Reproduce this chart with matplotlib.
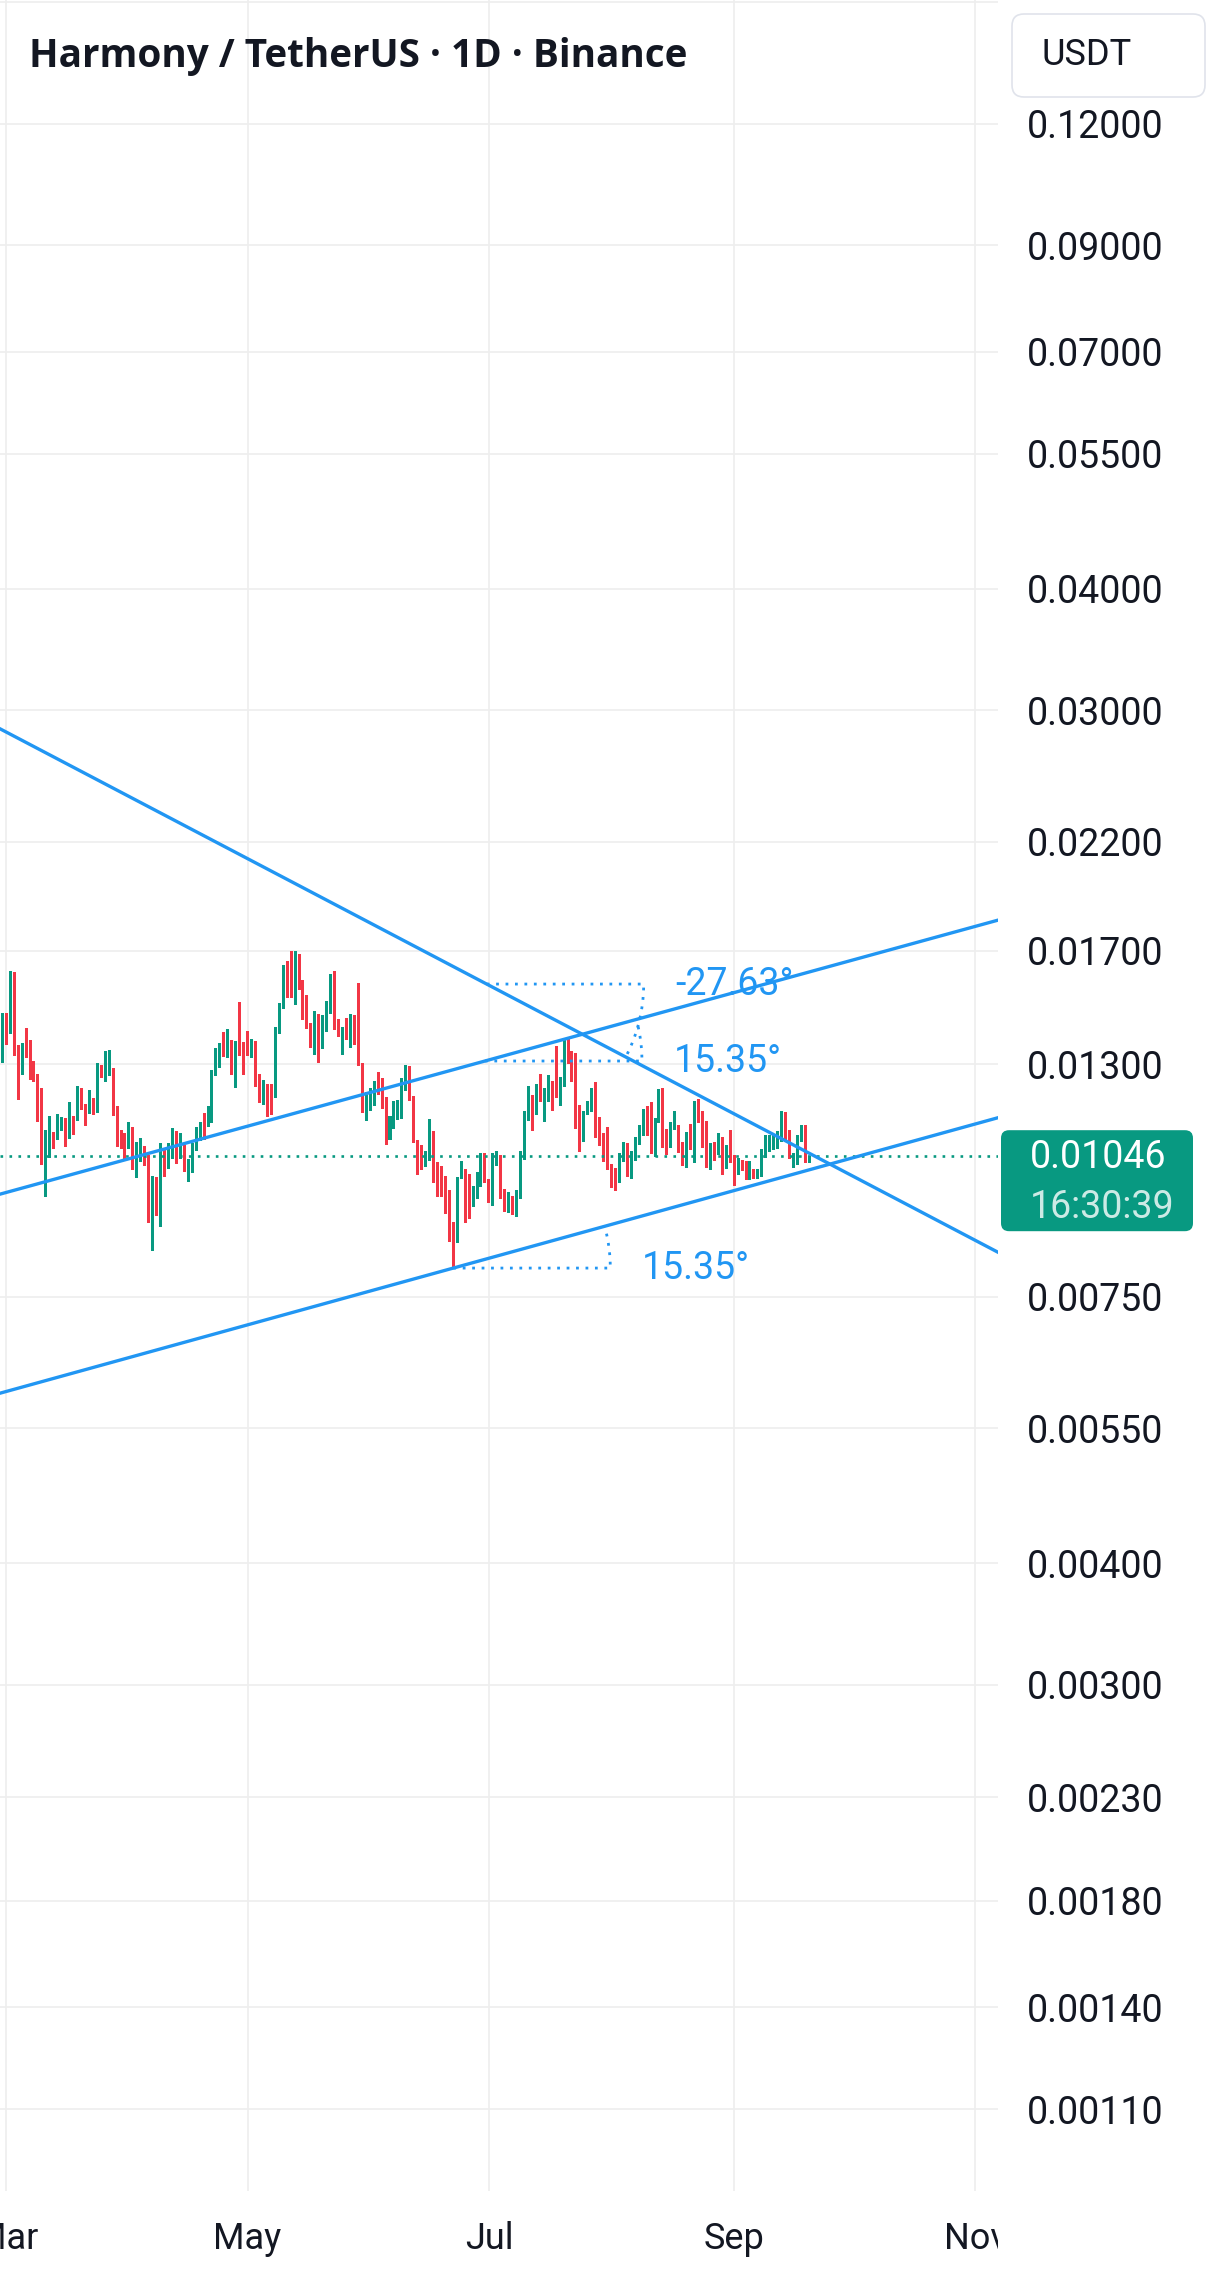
import numpy as np
import pandas as pd
import matplotlib
matplotlib.use("Agg")
import matplotlib.pyplot as plt
import matplotlib.dates as mdates
from matplotlib.patches import FancyBboxPatch
from matplotlib.ticker import NullLocator
from matplotlib.transforms import Bbox, TransformedBbox, IdentityTransform

W, H = 1219, 2282
UP = "#089981"
DOWN = "#F23645"
BLUE = "#2196F3"
GRID = "#EEEEEE"
INK = "#131722"

plt.rcParams["font.family"] = ["Roboto", "DejaVu Sans"]

title = "Harmony / TetherUS · 1D · Binance"
currency = "USDT"
countdown = "16:30:39"

# daily candles, first one on 2025-02-28
first_day = "2025-02-28"
opens = [
    0.01305, 0.01467, 0.01396, 0.01617, 0.01360, 0.01268, 0.01416, 0.01376, 0.01309, 0.01270,
    0.01228, 0.00949, 0.01042, 0.01108, 0.01088, 0.01109, 0.01144, 0.01089, 0.01149, 0.01137,
    0.01228, 0.01183, 0.01156, 0.01199, 0.01159, 0.01297, 0.01247, 0.01265, 0.01288, 0.01177,
    0.01112, 0.01104, 0.01064, 0.01122, 0.00993, 0.01032, 0.01071, 0.01048, 0.00837, 0.00995,
    0.00884, 0.01065, 0.01015, 0.01039, 0.01109, 0.01040, 0.01073, 0.00984, 0.01005, 0.01059,
    0.01084, 0.01158, 0.01122, 0.01131, 0.01265, 0.01289, 0.01402, 0.01320, 0.01376, 0.01229,
    0.01506, 0.01370, 0.01406, 0.01320, 0.01373, 0.01270, 0.01181, 0.01240, 0.01240, 0.01200,
    0.01397, 0.01482, 0.01659, 0.01699, 0.01496, 0.01687, 0.01586, 0.01531, 0.01433, 0.01329,
    0.01463, 0.01348, 0.01404, 0.01465, 0.01620, 0.01446, 0.01329, 0.01450, 0.01351, 0.01460,
    0.01575, 0.01303, 0.01137, 0.01164, 0.01178, 0.01276, 0.01258, 0.01202, 0.01087, 0.01115,
    0.01139, 0.01142, 0.01221, 0.01294, 0.01205, 0.01086, 0.01073, 0.01019, 0.01034, 0.01109,
    0.01031, 0.01023, 0.00999, 0.00965, 0.00896, 0.00853, 0.00991, 0.01014, 0.01004, 0.00927,
    0.00945, 0.00972, 0.01055, 0.00992, 0.00929, 0.01022, 0.01048, 0.00969, 0.00914, 0.00951,
    0.00906, 0.00945, 0.01036, 0.01137, 0.01208, 0.01153, 0.01270, 0.01134, 0.01189, 0.01249,
    0.01357, 0.01178, 0.01232, 0.01386, 0.01341, 0.01334, 0.01180, 0.01082, 0.01153, 0.01161,
    0.01246, 0.01147, 0.01104, 0.01120, 0.01028, 0.01017, 0.00981, 0.01032, 0.01078, 0.00991,
    0.01034, 0.01074, 0.01097, 0.01177, 0.01188, 0.01044, 0.01131, 0.01228, 0.01115, 0.01066,
    0.01113, 0.01125, 0.01081, 0.01017, 0.01128, 0.01029, 0.01197, 0.01163, 0.01136, 0.01012,
    0.01081, 0.01049, 0.01094, 0.01015, 0.01112, 0.01049, 0.01000, 0.01036, 0.01034, 0.00988,
    0.01015, 0.00991, 0.00996, 0.01041, 0.01056, 0.01061, 0.01064, 0.01082, 0.01160, 0.01112,
    0.01017, 0.01024, 0.01082, 0.01125, 0.01029,
]
closes = [
    0.01467, 0.01360, 0.01620, 0.01326, 0.01195, 0.01366, 0.01320, 0.01253, 0.01247, 0.01134,
    0.01024, 0.01112, 0.01149, 0.01065, 0.01155, 0.01147, 0.01069, 0.01188, 0.01100, 0.01234,
    0.01167, 0.01123, 0.01222, 0.01152, 0.01303, 0.01259, 0.01341, 0.01344, 0.01150, 0.01069,
    0.01064, 0.01038, 0.01133, 0.01012, 0.01081, 0.01091, 0.01022, 0.00893, 0.00999, 0.00908,
    0.01078, 0.00996, 0.01078, 0.01117, 0.01027, 0.01104, 0.01007, 0.01038, 0.01080, 0.01120,
    0.01134, 0.01087, 0.01178, 0.01282, 0.01350, 0.01366, 0.01323, 0.01412, 0.01268, 0.01373,
    0.01326, 0.01268, 0.01326, 0.01379, 0.01232, 0.01186, 0.01252, 0.01148, 0.01153, 0.01419,
    0.01502, 0.01644, 0.01521, 0.01521, 0.01699, 0.01550, 0.01444, 0.01414, 0.01351, 0.01474,
    0.01304, 0.01460, 0.01509, 0.01609, 0.01410, 0.01387, 0.01419, 0.01377, 0.01463, 0.01361,
    0.01295, 0.01159, 0.01217, 0.01228, 0.01249, 0.01209, 0.01170, 0.01074, 0.01149, 0.01191,
    0.01194, 0.01258, 0.01297, 0.01192, 0.01079, 0.01000, 0.01012, 0.01060, 0.01141, 0.00981,
    0.00949, 0.00949, 0.00912, 0.00855, 0.00801, 0.00995, 0.01033, 0.00893, 0.00901, 0.00974,
    0.01007, 0.01055, 0.00981, 0.00936, 0.01053, 0.01060, 0.00945, 0.00916, 0.00962, 0.00910,
    0.00965, 0.01058, 0.01163, 0.01234, 0.01110, 0.01240, 0.01189, 0.01228, 0.01267, 0.01164,
    0.01200, 0.01261, 0.01383, 0.01301, 0.01247, 0.01115, 0.01056, 0.01163, 0.01191, 0.01228,
    0.01092, 0.01071, 0.01032, 0.01012, 0.00970, 0.00963, 0.01053, 0.01081, 0.00996, 0.01058,
    0.01094, 0.01125, 0.01169, 0.01097, 0.01051, 0.01144, 0.01225, 0.01066, 0.01049, 0.01133,
    0.01163, 0.01054, 0.01022, 0.01107, 0.01061, 0.01191, 0.01131, 0.01066, 0.01017, 0.01078,
    0.01034, 0.01104, 0.01000, 0.01073, 0.01029, 0.00975, 0.01041, 0.01010, 0.00988, 0.01034,
    0.00991, 0.01015, 0.01063, 0.01101, 0.01099, 0.01101, 0.01109, 0.01163, 0.01082, 0.01039,
    0.01053, 0.01099, 0.01125, 0.01029, 0.01046,
]

price_ticks = [0.0011, 0.0014, 0.0018, 0.0023, 0.0030, 0.0040, 0.0055, 0.0075,
               0.0130, 0.0170, 0.0220, 0.0300, 0.0400, 0.0550, 0.0700, 0.0900,
               0.1200, 0.1600]
hidden_tick = 0.1600

month_starts = ["2025-03-01", "2025-05-01", "2025-07-01", "2025-09-01", "2025-11-01"]
month_labels = ["Mar", "May", "Jul", "Sep", "Nov"]

# trend-angle drawings: anchor point (angle measured there) and one more point
line_anchor_dates = ["2025-06-30 10:30", "2025-06-30 00:00", "2025-06-22 00:00"]
line_anchor_prices = [0.01571, 0.013098, 0.00803]
line_end_dates = ["2025-09-20", "2025-09-20", "2025-09-20"]
line_end_prices = [0.010532, 0.016166, 0.010129]
angle_labels = ["-27.63°", "15.35°", "15.35°"]

x_view = ["2025-02-27 09:50", "2025-11-06 16:48"]
y_view = [0.000907, 0.1607]

fig = plt.figure(figsize=(W / 100, H / 100), dpi=100)
fig.patch.set_facecolor("white")
plot_w, plot_h = 998, 2191
ax = fig.add_axes([0, 1 - plot_h / H, plot_w / W, plot_h / H])
ax.set_yscale("log")

dates = pd.date_range(first_day, periods=len(opens), freq="D")
xs = mdates.date2num(dates)
o = np.array(opens)
c = np.array(closes)
colors = np.where(c >= o, UP, DOWN)
ax.bar(xs, np.abs(c - o), bottom=np.minimum(o, c), width=0.76,
       color=colors, linewidth=0, zorder=2)

ax.set_xlim(mdates.date2num(pd.Timestamp(x_view[0])), mdates.date2num(pd.Timestamp(x_view[1])))
ax.set_ylim(*y_view)

# axes look
for s in ax.spines.values():
    s.set_visible(False)
ax.yaxis.tick_right()
ax.set_yticks(price_ticks)
ax.set_yticklabels(["" if v == hidden_tick else f"{v:.5f}" for v in price_ticks])
ax.yaxis.set_minor_locator(NullLocator())
ax.tick_params(axis="y", length=0, pad=21, labelsize=27, labelcolor=INK)
ax.xaxis.set_major_locator(mdates.MonthLocator(bymonth=(1, 3, 5, 7, 9, 11)))
ax.tick_params(axis="x", length=0, labelbottom=False)
ax.grid(True, which="major", color=GRID, lw=1.2, zorder=0)
ax.set_axisbelow(True)

# current price line
last = closes[-1]
ax.axhline(last, color=UP, lw=1.9, linestyle=(0, (1, 2.4)), zorder=3)

# month labels, clipped to the plot width
clip = TransformedBbox(Bbox([[0, -1], [1, 1]]), ax.transAxes)
for d, lab in zip(month_starts, month_labels):
    t = ax.text(mdates.date2num(pd.Timestamp(d)), -0.0218, lab,
                transform=ax.get_xaxis_transform(), ha="center", va="center",
                fontsize=26, color=INK)
    t.set_clip_path(None)
    t.set_clip_box(clip)
    t.set_clip_on(True)

# trend lines with their angle marks
to_px = ax.transData.transform
to_data = ax.transData.inverted().transform
R = 157
for d0, p0, d1, p1, lab in zip(line_anchor_dates, line_anchor_prices,
                               line_end_dates, line_end_prices, angle_labels):
    a = (mdates.date2num(pd.Timestamp(d0)), p0)
    b = (mdates.date2num(pd.Timestamp(d1)), p1)
    ax.axline(a, b, color=BLUE, lw=2.4, zorder=4)
    pa, pb = to_px([a, b])
    ang = np.arctan2(pb[1] - pa[1], pb[0] - pa[0])
    t = np.linspace(0, ang, 40)
    arc = np.column_stack([pa[0] + R * np.cos(t), pa[1] + R * np.sin(t)])
    path = np.vstack([pa, arc])
    dp = to_data(path)
    ax.plot(dp[:, 0], dp[:, 1], color=BLUE, lw=2.0, linestyle=(0, (1, 2.4)), zorder=4)
    ax.annotate(lab, xy=a, xytext=(R + 32, 0), textcoords="offset pixels",
                ha="left", va="center", color=BLUE, fontsize=27, zorder=5)

# price tag on the right scale
yc = to_px((xs[-1], last))[1]
tag = FancyBboxPatch((1001, yc - 75), 192, 101, boxstyle="round,pad=0,rounding_size=8",
                     transform=IdentityTransform(), fc=UP, ec="none")
fig.add_artist(tag)
fig.text(1030 / W, (yc - 1) / H, f"{last:.5f}", color="white", fontsize=27,
         ha="left", va="center")
fig.text(1030 / W, (yc - 51) / H, countdown, color="white", alpha=0.8, fontsize=27,
         ha="left", va="center")

# currency box
box = FancyBboxPatch((1012, H - 97), 193, 83, boxstyle="round,pad=0,rounding_size=12",
                     transform=IdentityTransform(), fc="white", ec="#E0E3EB", lw=1.2)
fig.add_artist(box)
fig.text(1042 / W, 1 - 55 / H, currency, color=INK, fontsize=26, ha="left", va="center")

fig.text(29 / W, 1 - 57 / H, title, family=["Open Sans", "DejaVu Sans"], weight="bold",
         fontsize=27.8, color=INK, ha="left", va="center")

fig.savefig("out.png", dpi=100, facecolor="white")
